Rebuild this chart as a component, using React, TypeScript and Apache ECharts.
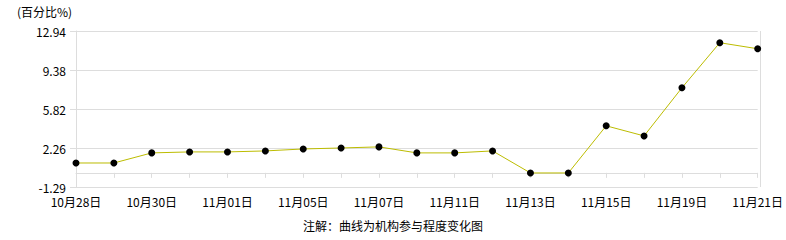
import React, { useEffect, useRef } from "react";
import * as echarts from "echarts";

const categories = [
  "10月28日", "10月29日", "10月30日", "10月31日", "11月01日", "11月04日", "11月05日",
  "11月06日", "11月07日", "11月08日", "11月11日", "11月12日", "11月13日", "11月14日",
  "11月15日", "11月18日", "11月19日", "11月20日", "11月21日",
];
const values = [
  0.9, 0.9, 1.82, 1.91, 1.91, 2.0, 2.18, 2.27, 2.37, 1.82, 1.82, 2.0, -0.01, -0.01,
  4.29, 3.37, 7.76, 11.87, 11.32,
];
const yTicks = [-1.29, 2.26, 5.82, 9.38, 12.94];
const yMin = -1.29;
const yMax = 12.94;
const unitLabel = "(百分比%)";
const footNote = "注解：曲线为机构参与程度变化图";

const FONT = "SimSun, 'Noto Sans CJK SC', sans-serif";

export default function App() {
  const ref = useRef<HTMLDivElement>(null);
  useEffect(() => {
    document.body.style.margin = "0";
    const chart = echarts.init(ref.current!, null, { renderer: "svg" });
    chart.setOption({
      animation: false,
      backgroundColor: "#ffffff",
      textStyle: { fontFamily: FONT },
      grid: { left: 76, right: 26, top: 31, bottom: 53, show: false },
      graphic: [
        {
          type: "text",
          left: 17,
          top: 5,
          style: { text: unitLabel, fontSize: 12, fill: "#000", fontFamily: FONT },
        },
        {
          type: "text",
          left: "center",
          top: 219,
          style: { text: footNote, fontSize: 12, fill: "#000", fontFamily: FONT },
        },
        {
          type: "line",
          shape: { x1: 760.5, y1: 31, x2: 760.5, y2: 187 },
          style: { stroke: "#dddddd", lineWidth: 1 },
        },
      ],
      xAxis: {
        type: "category",
        data: categories,
        boundaryGap: false,
        axisLine: { show: true, lineStyle: { color: "#dddddd" } },
        axisTick: { show: true, interval: 0, length: 5, lineStyle: { color: "#dddddd" } },
        axisLabel: { interval: 1, color: "#000", fontSize: 12, margin: 8, fontFamily: FONT },
        splitLine: { show: false },
      },
      yAxis: {
        type: "value",
        min: yMin,
        max: yMax,
        axisLine: { show: true, lineStyle: { color: "#dddddd" } },
        axisTick: { show: true, length: 6, customValues: yTicks, lineStyle: { color: "#dddddd" } },
        axisLabel: {
          customValues: yTicks,
          color: "#000",
          fontSize: 12,
          margin: 10,
          fontFamily: FONT,
          formatter: (v: number) => v.toFixed(2),
        },
        splitLine: { show: true, lineStyle: { color: "#dddddd" } },
      },
      series: [
        {
          type: "line",
          data: values,
          lineStyle: { color: "#bcbc00", width: 1 },
          itemStyle: { color: "#000000" },
          symbol: "circle",
          symbolSize: 7,
          showSymbol: true,
        },
      ],
    });
    return () => chart.dispose();
  }, []);
  return <div ref={ref} style={{ width: 786, height: 240 }} />;
}
